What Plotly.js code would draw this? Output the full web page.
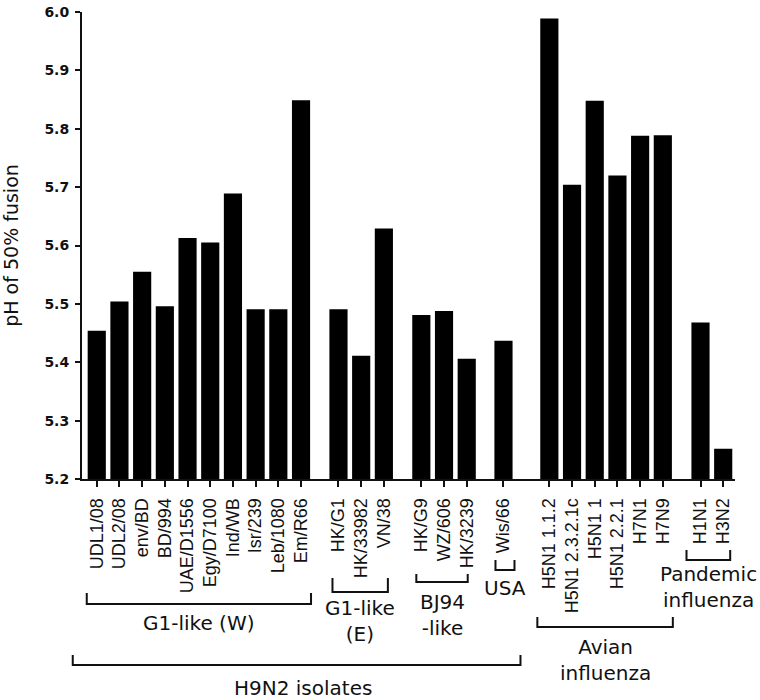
<!DOCTYPE html>
<html>
<head>
<meta charset="utf-8">
<script src="https://cdn.plot.ly/plotly-3.0.1.min.js"></script>
<style>html,body{margin:0;padding:0;background:#fff;}#chart{width:760px;height:700px;}</style>
</head>
<body>
<div id="chart"></div>
<script>
// ---- data ----
const categories = ["UDL1/08","UDL2/08","env/BD","BD/994","UAE/D1556","Egy/D7100","Ind/WB","Isr/239","Leb/1080","Em/R66",
  "HK/G1","HK/33982","VN/38",
  "HK/G9","WZ/606","HK/3239",
  "Wis/66",
  "H5N1 1.1.2","H5N1 2.3.2.1c","H5N1 1","H5N1 2.2.1","H7N1","H7N9",
  "H1N1","H3N2"];
const phValues = [5.454,5.504,5.555,5.496,5.613,5.605,5.689,5.491,5.491,5.849,
  5.491,5.411,5.629,
  5.481,5.488,5.406,
  5.437,
  5.989,5.704,5.848,5.720,5.788,5.789,
  5.468,5.252];
const groupSizes = [10,3,3,1,6,2];
const groupLabels = ["G1-like (W)","G1-like<br>(E)","BJ94<br>-like","USA","Avian<br>influenza","Pandemic<br>influenza"];
const superGroupLabel = "H9N2 isolates";   // spans the first four groups
const yTicks = [5.2,5.3,5.4,5.5,5.6,5.7,5.8,5.9,6.0];

// ---- layout helpers (positions are layout, not data) ----
const groupGapExtra = [0.65,0.65,0.62,1.02,0.66];
const xPos = [];
const groupStart = [], groupEnd = [];
let p = 0, idx = 0;
groupSizes.forEach((n,g)=>{
  if (g>0) p += 1 + groupGapExtra[g-1];
  for (let k=0;k<n;k++){ if(k>0) p+=1; xPos.push(p); if(k===0) groupStart.push(idx); if(k===n-1) groupEnd.push(idx); idx++; }
});
const XMIN = -0.65, XMAX = xPos[xPos.length-1] + 0.52;
const M = {l:82, r:25, t:12, b:221};
const W = 760, H = 700;
const plotW = W - M.l - M.r, plotH = H - M.t - M.b;
const px = s => (s - XMIN)/(XMAX - XMIN);           // slot units -> paper x
const pyPix = y => (H - M.b - y)/plotH;              // page pixel y -> paper y
const slotPx = plotW/(XMAX-XMIN);

// bracket styling: [x offset left (px), x offset right (px), horizontal y (px), top y (px), label y (px)]
const bracketGeom = [
  [-10, 10, 604, 593, 623],
  [-6, 4, 592, 578, 621],
  [-5, 1, 582, 574, 615],
  [-8, 11, 570, 560, 588],
  [-12, 10, 627, 617, 660],
  [-14, 7, 560, 550, 587]
];
const shapes = [], annotations = [];
function addBracket(s0, s1, yh, yt){
  const x0 = px(s0), x1 = px(s1);
  shapes.push({type:'path', xref:'paper', yref:'paper',
    path:`M ${x0} ${pyPix(yt)} L ${x0} ${pyPix(yh)} L ${x1} ${pyPix(yh)} L ${x1} ${pyPix(yt)}`,
    line:{color:'#111', width:2}});
}
groupLabels.forEach((lab,g)=>{
  const G = bracketGeom[g];
  const s0 = xPos[groupStart[g]] + G[0]/slotPx;
  const s1 = xPos[groupEnd[g]] + G[1]/slotPx;
  addBracket(s0, s1, G[2], G[3]);
  annotations.push({xref:'paper', yref:'paper', x:px((s0+s1)/2), y:pyPix(G[4]),
    xanchor:'center', yanchor:'middle', showarrow:false, text:lab,
    font:{family:'DejaVu Sans, sans-serif', size:20, color:'#111'}});
});
// super bracket H9N2
{
  const s0 = xPos[groupStart[0]] - 24/slotPx;
  const s1 = xPos[groupEnd[3]] + 17/slotPx;
  addBracket(s0, s1, 665, 655);
  annotations.push({xref:'paper', yref:'paper', x:px((s0+s1)/2)+6/plotW, y:pyPix(688),
    xanchor:'center', yanchor:'middle', showarrow:false, text:superGroupLabel,
    font:{family:'DejaVu Sans, sans-serif', size:20, color:'#111'}});
}

const trace = {
  type:'bar', x:xPos, y:phValues, width:0.8,
  marker:{color:'#000', line:{width:0}},
  hovertext:categories, hoverinfo:'text+y'
};

const layout = {
  width:W, height:H, margin:M,
  paper_bgcolor:'#fff', plot_bgcolor:'#fff',
  showlegend:false,
  xaxis:{range:[XMIN, XMAX], tickmode:'array', tickvals:xPos, ticktext:categories,
    tickangle:-90, ticks:'outside', ticklen:6, tickwidth:2, tickcolor:'#111',
    ticklabelstandoff:4,
    showline:true, linecolor:'#111', linewidth:2, showgrid:false, zeroline:false,
    tickfont:{family:'Liberation Sans, Arial, sans-serif', size:18, color:'#111'}},
  yaxis:{range:[5.2, 6.0], tickmode:'array', tickvals:yTicks, ticktext:yTicks.map(v=>v.toFixed(1)),
    ticks:'outside', ticklen:5, tickwidth:2, tickcolor:'#111',
    ticklabelstandoff:3,
    showline:true, linecolor:'#111', linewidth:2, showgrid:false, zeroline:false,
    tickfont:{family:'DejaVu Sans, sans-serif', size:14, color:'#111', weight:'bold'},
    title:{text:'pH of 50% fusion', standoff:24, font:{family:'DejaVu Sans, sans-serif', size:19, color:'#111'}}},
  shapes:shapes, annotations:annotations
};

Plotly.newPlot('chart', [trace], layout, {displayModeBar:false, staticPlot:true});
</script>
</body>
</html>
